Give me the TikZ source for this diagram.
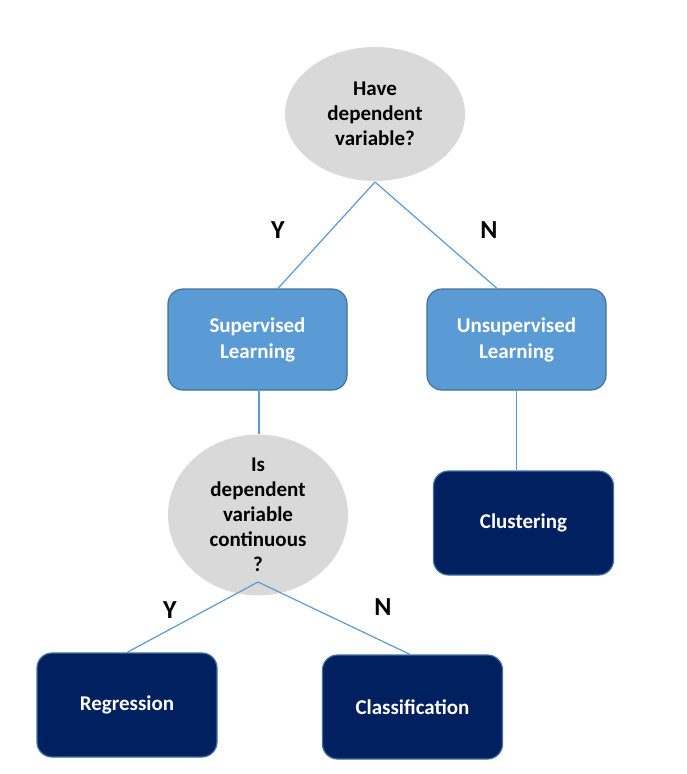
\documentclass[tikz,border=0pt]{standalone}
\usepackage{fontspec}
\setmainfont{Carlito}
\usetikzlibrary{shapes.geometric}
\definecolor{linec}{RGB}{91,155,213}
\definecolor{midblue}{RGB}{91,155,213}
\definecolor{edgeblue}{RGB}{65,113,156}
\definecolor{navy}{RGB}{0,32,96}
\definecolor{lgray}{RGB}{217,217,217}
\tikzset{
  decision/.style={ellipse, fill=lgray, minimum width=180pt, minimum height=134pt, inner sep=0pt, align=center, font=\fontsize{21}{25}\selectfont\bfseries, text=black},
  midbox/.style={rectangle, rounded corners=15pt, fill=midblue, draw=edgeblue, line width=1.2pt, minimum width=179pt, minimum height=101pt, align=center, font=\fontsize{21}{26}\selectfont\bfseries, text=white},
  leafbox/.style={rectangle, rounded corners=15pt, fill=navy, draw=edgeblue, line width=1.2pt, minimum width=180pt, minimum height=104pt, align=center, font=\fontsize{21}{26}\selectfont\bfseries, text=white},
  conn/.style={draw=linec, line width=1.2pt},
  yn/.style={font=\fontsize{26}{30}\selectfont\bfseries, text=black}
}
\begin{document}
\begin{tikzpicture}[x=1pt,y=-1pt]
\useasboundingbox (0,0) rectangle (686,774);
\node[decision] (q1) at (375,114) {Have\\dependent\\variable?};
\node[midbox] (sup) at (257.5,339.5) {Supervised\\Learning};
\node[midbox] (uns) at (516.5,339.5) {Unsupervised\\Learning};
\node[decision] (q2) at (258,515) {Is\\dependent\\variable\\continuous\\?};
\node[leafbox] (clu) at (523.5,523) {Clustering};
\node[leafbox] (reg) at (127,705) {Regression};
\node[leafbox] (cla) at (412.5,707) {Classification};
\coordinate (q1b) at (375,182);
\coordinate (q2b) at (258,582);
\draw[conn] (q1b) -- (sup.north -| 278,0);
\draw[conn] (q1b) -- (uns.north -| 497,0);
\draw[conn] (sup.south -| 259,0) -- (q2.north -| 259,0);
\draw[conn] (uns.south) -- (clu.north -| uns.south);
\draw[conn] (q2b) -- (reg.north);
\draw[conn] (q2b) -- (cla.north -| 410,0);
\node[yn] (y1) at (278,230) {Y};
\node[yn] (n1) at (489,230) {N};
\node[yn] (y2) at (170,610) {Y};
\node[yn] (n2) at (383,607) {N};
\end{tikzpicture}
\end{document}
